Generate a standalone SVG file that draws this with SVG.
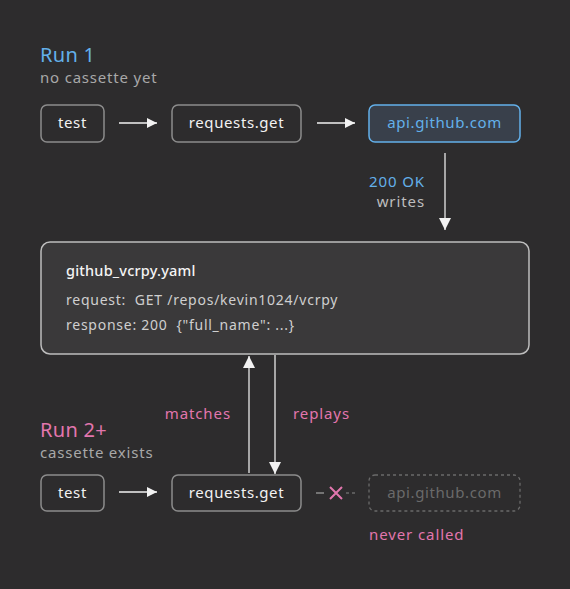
<svg xmlns="http://www.w3.org/2000/svg" width="570" height="589" viewBox="0 0 570 589">
<style>
text{font-family:"Noto Sans","DejaVu Sans",sans-serif}
.t{font-size:15px;fill:#f2f2f2;text-anchor:middle;letter-spacing:0.6px}
.box{fill:#2d2c2d;stroke:#8c8c8c;stroke-width:1.5}
.title{font-size:20px;letter-spacing:0.3px}
.sub{font-size:15px;fill:#a8a8a8;letter-spacing:0.8px}
.blue{fill:#63b0ea}
.pink{fill:#e276ae}
.lbl{font-size:15px;letter-spacing:0.9px}
.code{font-size:14px;fill:#cfcfcf;letter-spacing:0.75px}
.arr{stroke:#f2f2f2;stroke-width:1.5;fill:none}
.varr{stroke:#cfcfcf;stroke-width:1.5;fill:none}
</style>
<defs>
<marker id="ah" viewBox="0 0 10 10" refX="10" refY="5" markerWidth="10" markerHeight="10" markerUnits="userSpaceOnUse" orient="auto"><path d="M0,0L10,5L0,10z" fill="#f2f2f2"/></marker>
<marker id="ahv" viewBox="0 0 12 12" refX="12" refY="6" markerWidth="12" markerHeight="12" markerUnits="userSpaceOnUse" orient="auto"><path d="M0,0L12,6L0,12z" fill="#f2f2f2"/></marker>
</defs>
<rect width="570" height="589" fill="#2d2c2d"/>
<text x="40" y="62" class="title blue">Run 1</text>
<text x="40" y="83" class="sub">no cassette yet</text>
<text x="40" y="437" class="title pink">Run 2+</text>
<text x="40" y="458" class="sub">cassette exists</text>
<g id="test1"><rect x="41" y="105" width="63" height="37" rx="6" class="box"/><text x="72.5" y="128" class="t">test</text></g>
<g id="get1"><rect x="172" y="105" width="129" height="37" rx="6" class="box"/><text x="236.5" y="128" class="t">requests.get</text></g>
<g id="api1"><rect x="369" y="105" width="151" height="37" rx="6" fill="#39404b" stroke="#63b0ea" stroke-width="1.5"/><text x="444.5" y="128" class="t" style="fill:#63b0ea">api.github.com</text></g>
<g id="cassette"><rect x="41" y="242" width="488" height="112" rx="9" fill="#3a393a" stroke="#bdbdbd" stroke-width="1.5"/>
<text x="66" y="276" style="font-size:14.5px;fill:#f4f4f4;font-weight:500;letter-spacing:0.2px">github_vcrpy.yaml</text>
<text x="66" y="305" class="code" xml:space="preserve">request:  GET /repos/kevin1024/vcrpy</text>
<text x="66" y="330" class="code" xml:space="preserve">response: 200  {"full_name": ...}</text></g>
<g id="test2"><rect x="41" y="475" width="63" height="36" rx="6" class="box"/><text x="72.5" y="498" class="t">test</text></g>
<g id="get2"><rect x="172" y="475" width="129" height="36" rx="6" class="box"/><text x="236.5" y="498" class="t">requests.get</text></g>
<g id="api2"><rect x="369" y="475" width="151" height="36" rx="6" fill="none" stroke="#6a6a6a" stroke-width="1.3" stroke-dasharray="3 3"/><text x="444.5" y="498" class="t" style="fill:#6a6a6a">api.github.com</text>
<text x="369" y="540" class="lbl pink">never called</text></g>
<g id="connectors">
<line x1="119" y1="123" x2="157" y2="123" class="arr" marker-end="url(#ah)"/>
<line x1="317" y1="123" x2="355" y2="123" class="arr" marker-end="url(#ah)"/>
<line x1="445" y1="153" x2="445" y2="230" class="varr" marker-end="url(#ahv)"/>
<text x="425" y="187" class="lbl blue" text-anchor="end">200 OK</text>
<text x="425" y="207" class="lbl" fill="#bdbdbd" text-anchor="end">writes</text>
<line x1="249" y1="473" x2="249" y2="356" class="varr" marker-end="url(#ahv)"/>
<line x1="275" y1="355" x2="275" y2="474" class="varr" marker-end="url(#ahv)"/>
<text x="231" y="419" class="lbl pink" text-anchor="end">matches</text>
<text x="293" y="419" class="lbl pink">replays</text>
<line x1="119" y1="492" x2="157" y2="492" class="arr" marker-end="url(#ah)"/>
<line x1="316" y1="493" x2="324" y2="493" stroke="#8c8c8c" stroke-width="1.5"/>
<path d="M330,487L342,499M342,487L330,499" stroke="#e276ae" stroke-width="2" fill="none"/>
<line x1="346" y1="493" x2="355" y2="493" stroke="#6a6a6a" stroke-width="1.3" stroke-dasharray="3 3"/>
</g>
</svg>
